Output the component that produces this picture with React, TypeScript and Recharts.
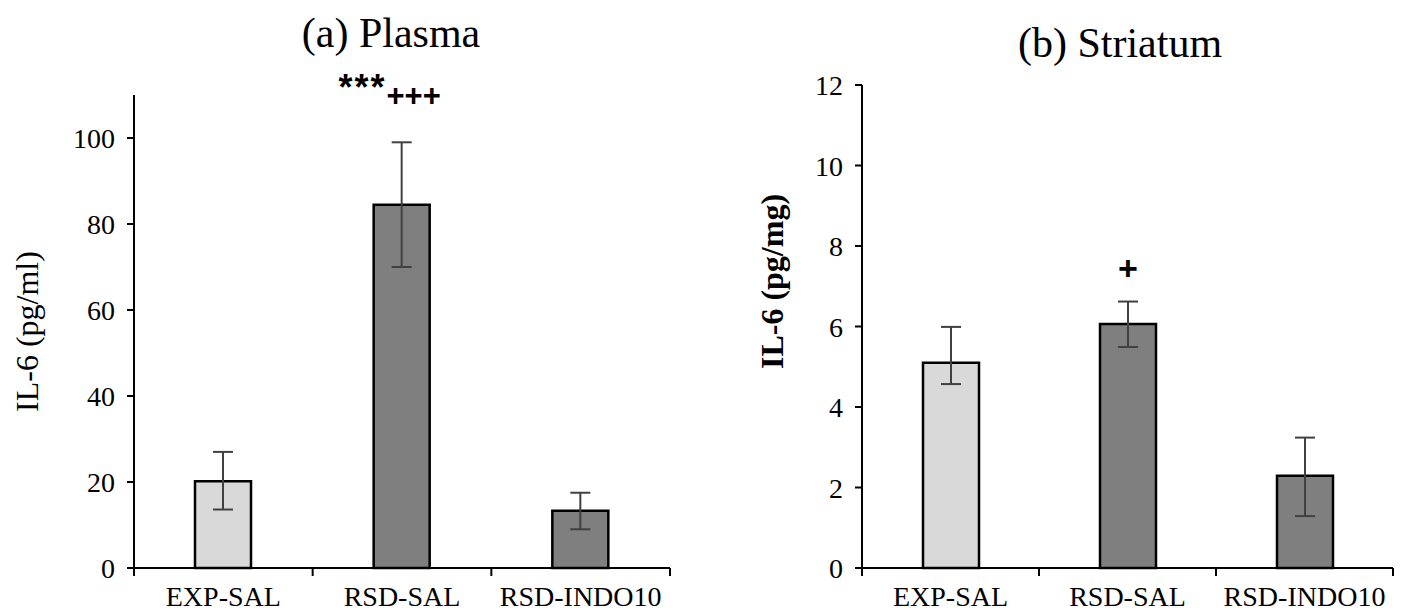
import React from "react";
import { BarChart, Bar, XAxis, YAxis, ErrorBar, Cell, LabelList } from "recharts";

const groups = ["EXP-SAL", "RSD-SAL", "RSD-INDO10"];

const plasmaMean = [20.2, 84.5, 13.3];
const plasmaLow = [13.6, 70.0, 9.0];
const plasmaHigh = [27.0, 99.0, 17.5];
const plasmaMarks = ["", "***+++", ""];
const plasmaTicks = [0, 20, 40, 60, 80, 100];

const striatumMean = [5.1, 6.06, 2.29];
const striatumLow = [4.57, 5.49, 1.29];
const striatumHigh = [5.99, 6.62, 3.24];
const striatumMarks = ["", "+", ""];
const striatumTicks = [0, 2, 4, 6, 8, 10, 12];

const FILLS = ["#d9d9d9", "#7f7f7f", "#7f7f7f"];
const SERIF = "'Liberation Serif', 'Times New Roman', serif";
const SANS = "'Liberation Sans', Arial, sans-serif";

const makeRows = (mean: number[], low: number[], high: number[], marks: string[]) =>
  groups.map((g, i) => ({
    group: g,
    mean: mean[i],
    err: [mean[i] - low[i], high[i] - mean[i]],
    high: high[i],
    mark: marks[i],
  }));

const plasmaRows = makeRows(plasmaMean, plasmaLow, plasmaHigh, plasmaMarks);
const striatumRows = makeRows(striatumMean, striatumLow, striatumHigh, striatumMarks);

function CategoryTick(props: any) {
  const { x, y, payload, index, visibleTicksCount, band } = props;
  const half = payload?.offset ?? band / 2;
  const last = index === visibleTicksCount - 1;
  return (
    <g>
      <line x1={x - half} x2={x - half} y1={y} y2={y + 8} stroke="#000" strokeWidth={2} />
      {last && <line x1={x + half} x2={x + half} y1={y} y2={y + 8} stroke="#000" strokeWidth={2} />}
      <text x={x} y={y + 38} textAnchor="middle" fontSize={28} fontFamily={SERIF} fill="#000">
        {payload.value}
      </text>
    </g>
  );
}

function ValueTick(props: any) {
  const { x, y, payload } = props;
  return (
    <text x={x} y={y} dy="0.36em" textAnchor="end" fontSize={28} fontFamily={SERIF} fill="#000">
      {payload.value}
    </text>
  );
}

function AxisTitle(props: any) {
  const { viewBox, text, cx, dy, bold } = props;
  const x = (viewBox?.x ?? 0) + cx;
  const y = (viewBox?.y ?? 0) + (viewBox?.height ?? 0) / 2 + dy;
  return (
    <text
      x={x}
      y={y}
      transform={`rotate(-90 ${x} ${y})`}
      textAnchor="middle"
      dominantBaseline="central"
      fontSize={32}
      fontWeight={bold ? "bold" : "normal"}
      fontFamily={SERIF}
      fill="#000"
    >
      {text}
    </text>
  );
}

// significance marks, placed above the top of each error bar
function makeMark(rows: any[], gap: number, size: number) {
  return (props: any) => {
    const vb = props.viewBox ?? props;
    const { x, y, width, height } = vb;
    const row = rows[props.index];
    if (!row || !row.mark) return null;
    const perUnit = Math.abs(height) / row.mean;
    const errTop = Math.min(y, y + height) - (row.high - row.mean) * perUnit;
    const cx = x + width / 2;
    const stars = (row.mark.match(/^\*+/) || [""])[0];
    const plus = row.mark.slice(stars.length);
    return (
      <text
        x={stars ? cx - 12 : cx}
        y={errTop - gap}
        textAnchor="middle"
        fontFamily={SANS}
        fontWeight="bold"
        fill="#000"
      >
        {stars && (
          <tspan fontSize={36} letterSpacing={2} dy={-6}>
            {stars}
          </tspan>
        )}
        <tspan fontSize={size} dy={stars ? 6 : 0}>
          {plus}
        </tspan>
      </text>
    );
  };
}

function Panel(props: any) {
  const { rows, width, top, right, yWidth, domain, ticks, yLabel, labelX, labelDy, bold, markGap, markSize } = props;
  const plotW = width - right - yWidth;
  const band = plotW / rows.length;
  return (
    <BarChart
      width={width}
      height={614}
      data={rows}
      margin={{ top, right, bottom: 0, left: 0 }}
      barCategoryGap={0}
    >
      <XAxis
        dataKey="group"
        height={46}
        axisLine={{ stroke: "#000", strokeWidth: 2 }}
        tickLine={false}
        tickSize={0}
        tickMargin={0}
        interval={0}
        tick={<CategoryTick band={band} />}
      />
      <YAxis
        width={yWidth}
        domain={domain}
        ticks={ticks}
        interval={0}
        axisLine={{ stroke: "#000", strokeWidth: 2 }}
        tickLine={{ stroke: "#000", strokeWidth: 2 }}
        tickSize={7}
        tickMargin={12}
        tick={<ValueTick />}
        label={{
          value: yLabel,
          content: (p: any) => <AxisTitle {...p} text={yLabel} cx={labelX} dy={labelDy} bold={bold} />,
        }}
      />
      <Bar dataKey="mean" barSize={56} stroke="#000" strokeWidth={2.5} isAnimationActive={false}>
        {rows.map((r: any, i: number) => (
          <Cell key={r.group} fill={FILLS[i]} />
        ))}
        <ErrorBar
          dataKey="err"
          direction="y"
          width={10}
          stroke="#404040"
          strokeWidth={2}
          isAnimationActive={false}
        />
        <LabelList dataKey="mark" content={makeMark(rows, markGap, markSize)} />
      </Bar>
    </BarChart>
  );
}

export default function App() {
  return (
    <div style={{ position: "absolute", left: 0, top: 0, width: 1404, height: 614, background: "#fff" }}>
      <div style={{ position: "absolute", left: 0, top: 0 }}>
        <Panel
          rows={plasmaRows}
          width={700}
          top={95}
          right={30}
          yWidth={134}
          domain={[0, 110]}
          ticks={plasmaTicks}
          yLabel="IL-6 (pg/ml)"
          labelX={27}
          labelDy={0}
          bold={false}
          markGap={36}
          markSize={31}
        />
      </div>
      <div style={{ position: "absolute", left: 700, top: 0 }}>
        <Panel
          rows={striatumRows}
          width={704}
          top={85}
          right={11}
          yWidth={162}
          domain={[0, 12]}
          ticks={striatumTicks}
          yLabel="IL-6 (pg/mg)"
          labelX={72}
          labelDy={-45}
          bold={true}
          markGap={22}
          markSize={34}
        />
      </div>
      <svg width={1404} height={80} style={{ position: "absolute", left: 0, top: 0 }}>
        <text x={391} y={47} textAnchor="middle" fontSize={42} fontFamily={SERIF} fill="#000">
          (a) Plasma
        </text>
        <text x={1120} y={57} textAnchor="middle" fontSize={42} fontFamily={SERIF} fill="#000">
          (b) Striatum
        </text>
      </svg>
    </div>
  );
}
